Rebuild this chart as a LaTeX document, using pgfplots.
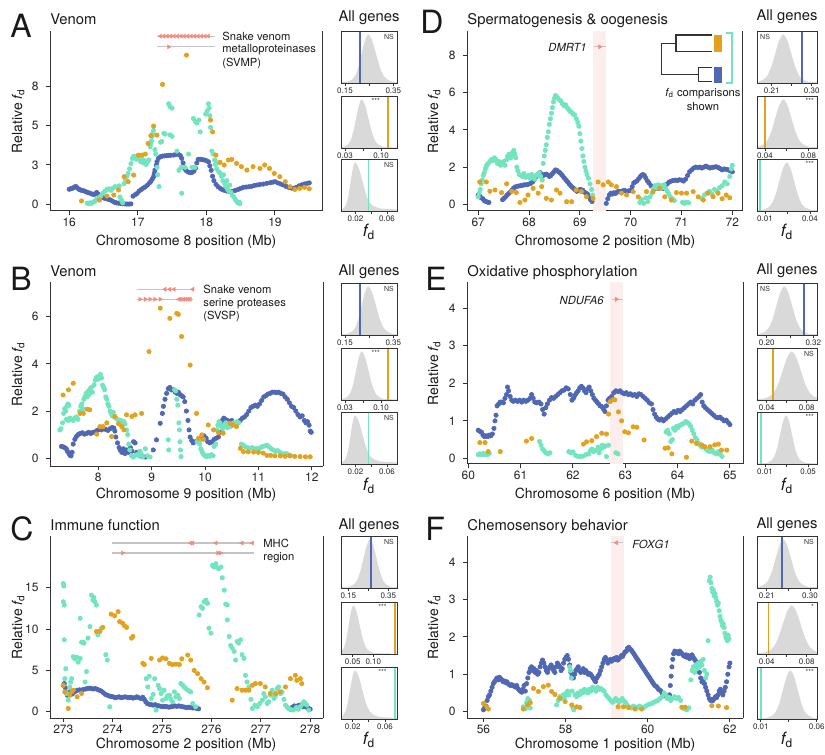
\documentclass[border=0pt]{standalone}
\usepackage{fontspec}
\setmainfont{TeX Gyre Heros}
\usepackage{pgfplots}
\pgfplotsset{compat=1.18}

\definecolor{bluC}{HTML}{5067B3}
\definecolor{orgC}{HTML}{E2A21E}
\definecolor{tealC}{HTML}{72E4BF}
\definecolor{geneC}{HTML}{F58A7E}
\definecolor{glineC}{HTML}{C4C4C4}
\definecolor{bandC}{HTML}{FDEEEE}
\definecolor{histC}{HTML}{D9D9D9}
\definecolor{axC}{HTML}{333333}

\newcommand{\ftick}{\fontsize{6}{6.5}\selectfont}
\newcommand{\flab}{\fontsize{7}{8}\selectfont}
\newcommand{\ftitle}{\fontsize{7.4}{8.5}\selectfont}
\newcommand{\fletter}{\fontsize{16}{17}\selectfont}
\newcommand{\fann}{\fontsize{5.6}{6.5}\selectfont}
\newcommand{\finset}{\fontsize{4}{4.4}\selectfont}
\newcommand{\fd}{{\itshape f}\textsubscript{d}}

\pgfplotsset{
  mainax/.style={
    scale only axis, anchor=north west, clip=false,
    axis x line*=bottom, axis y line*=left,
    axis line style={line width=0.5pt, draw=axC},
    tick align=outside, major tick length=2.2pt,
    tick style={axC, line width=0.5pt},
    tick label style={font=\ftick, text=black!85},
    xticklabel style={inner sep=1.2pt},
    /pgf/number format/assume math mode=true,
    /pgf/number format/1000 sep={},
  },
  ins/.style={
    scale only axis, anchor=north west, height=26pt,
    ymin=0, ymax=1.07, ytick=\empty, xtick pos=left,
    scaled x ticks=false,
    axis line style={line width=0.5pt, draw=axC},
    tick align=outside, major tick length=1.4pt,
    tick style={axC, line width=0.4pt},
    tick label style={font=\finset, text=black!85, inner sep=0.6pt},
    axis on top,
  },
  pb/.style={only marks, color=bluC, mark=*, mark size=1.1pt, line width=0.3pt, mark options={fill=bluC, draw=bluC}},
  pt/.style={only marks, color=tealC, mark=*, mark size=1.1pt, line width=0.3pt, mark options={fill=tealC, draw=tealC}},
  po/.style={only marks, color=orgC, mark=*, mark size=1.1pt, line width=0.3pt, mark options={fill=orgC, draw=orgC}},
  hist/.style={fill=histC, draw=none, smooth},
  vl/.style={line width=0.9pt},
  gline/.style={glineC, line width=0.6pt},
  arrL/.style={only marks, color=geneC, mark=triangle*, mark size=1.3pt, mark options={rotate=90, fill=geneC, draw=geneC, line width=0.1pt}},
  arrR/.style={only marks, color=geneC, mark=triangle*, mark size=1.3pt, mark options={rotate=-90, fill=geneC, draw=geneC, line width=0.1pt}},
}
\tikzset{sig/.style={font=\fontsize{3.5}{3.8}\selectfont, inner sep=0.8pt, text=black!80}}

\newcommand{\venominsets}[3]{%
\begin{axis}[ins, at={(170.5pt,#1)}, width=28pt, xmin=0.1334, xmax=0.3653,
  xtick={0.15,0.25,0.35}, xticklabels={0.15,,0.35}]
\addplot[hist] coordinates {(0.084,0.01)(0.1515,0.02)(0.165,0.035)(0.1785,0.07)(0.192,0.15)(0.2055,0.33)(0.219,0.61)(0.2325,0.88)(0.246,1)(0.262,0.88)(0.278,0.61)(0.294,0.33)(0.310,0.15)(0.326,0.07)(0.342,0.035)(0.358,0.02)(0.438,0.01)} \closedcycle;
\addplot[bluC, vl] coordinates {(0.212,0)(0.212,1.07)};
\node[sig, anchor=north east] at (rel axis cs:0.98,0.97) {NS};
\end{axis}
\begin{axis}[ins, at={(170.5pt,#2)}, width=28pt, xmin=0.0222, xmax=0.131,
  xtick={0.03,0.065,0.10}, xticklabels={0.03,,0.10}]
\addplot[hist] coordinates {(-0.0035,0.01)(0.024,0.02)(0.0295,0.035)(0.035,0.07)(0.0405,0.15)(0.046,0.33)(0.0515,0.61)(0.057,0.88)(0.0625,1)(0.069,0.88)(0.0755,0.61)(0.082,0.33)(0.0885,0.15)(0.095,0.07)(0.1015,0.035)(0.108,0.02)(0.1405,0.01)} \closedcycle;
\addplot[orgC, vl] coordinates {(0.1132,0)(0.1132,1.07)};
\node[sig, anchor=north] at (rel axis cs:0.62,0.99) {***};
\end{axis}
\begin{axis}[ins, at={(170.5pt,#3)}, width=28pt, xmin=0.0016, xmax=0.0727,
  xtick={0.02,0.04,0.06}, xticklabels={0.02,,0.06}]
\addplot[hist] coordinates {(-0.0136,0.01)(0.0002,0.02)(0.0029,0.035)(0.0057,0.07)(0.0084,0.15)(0.0112,0.33)(0.0139,0.61)(0.0167,0.88)(0.0194,1)(0.0242,0.88)(0.0289,0.61)(0.0337,0.33)(0.0384,0.17)(0.0432,0.10)(0.0479,0.07)(0.0527,0.05)(0.0764,0.03)} \closedcycle;
\addplot[tealC, vl] coordinates {(0.0365,0)(0.0365,1.07)};
\node[sig, anchor=north east] at (rel axis cs:0.98,0.97) {NS};
\end{axis}}

\begin{document}
\begin{tikzpicture}[x=0.5pt, y=-0.5pt]

% ---------------- A ----------------
\begin{axis}[mainax, at={(25pt,-15.5pt)}, width=136.5pt, height=90pt,
  xmin=15.72, xmax=19.70, ymin=-0.45, ymax=11.72,
  xtick={16,17,18,19}, ytick={0,2.667,5.333,8}, yticklabels={0,3,5,8}]
\addplot[pb] coordinates {(16.00,1.02)(16.02,1.05)(16.04,1.08)(16.06,1.12)(16.08,1.18)(16.10,1.20)(16.12,1.10)(16.14,1.02)(16.16,0.98)(16.18,0.95)(16.21,0.92)(16.24,0.86)(16.27,0.80)(16.30,0.76)(16.33,0.70)(16.36,0.66)(16.38,0.72)(16.40,0.80)(16.42,0.70)(16.45,0.55)(16.48,0.48)(16.51,0.42)(16.54,0.38)(16.57,0.34)(16.60,0.30)(16.63,0.22)(16.66,0.14)(16.69,0.10)(16.72,0.08)(16.75,0.06)(16.78,0.04)(16.81,0.03)(16.84,0.02)(16.87,0.02)(16.90,0.03)(16.93,0.55)(16.96,0.65)(16.99,0.74)(17.02,0.90)(17.05,1.00)(17.08,1.10)(17.11,1.18)(17.14,1.30)(17.17,1.45)(17.19,1.55)(17.21,1.70)(17.23,1.87)(17.24,2.10)(17.25,2.32)(17.27,2.65)(17.28,2.88)(17.30,3.10)(17.33,3.22)(17.36,3.26)(17.39,3.28)(17.42,3.29)(17.45,3.31)(17.48,3.32)(17.52,3.33)(17.55,3.36)(17.59,3.38)(17.62,3.30)(17.64,3.11)(17.66,2.80)(17.68,2.45)(17.70,2.30)(17.73,2.20)(17.76,2.14)(17.79,2.16)(17.82,2.25)(17.84,2.45)(17.86,2.80)(17.88,3.04)(17.91,3.05)(17.94,3.02)(17.97,3.00)(18.00,2.95)(18.03,2.88)(18.05,2.60)(18.07,2.30)(18.09,1.90)(18.11,1.60)(18.14,1.35)(18.17,1.19)(18.20,1.08)(18.23,1.00)(18.26,0.95)(18.30,0.90)(18.34,0.86)(18.38,0.88)(18.42,0.94)(18.46,1.00)(18.50,1.08)(18.54,1.15)(18.58,1.17)(18.62,1.19)(18.66,1.22)(18.70,1.28)(18.74,1.31)(18.78,1.34)(18.83,1.37)(18.88,1.42)(18.93,1.46)(18.97,1.50)(19.00,1.53)(19.04,1.45)(19.08,1.38)(19.12,1.31)(19.16,1.22)(19.20,1.15)(19.24,1.10)(19.27,1.08)(19.31,1.15)(19.35,1.25)(19.39,1.32)(19.43,1.38)(19.47,1.42)(19.50,1.45)};
\addplot[pt] coordinates {(16.26,0.08)(16.28,0.05)(16.30,0.10)(16.32,0.06)(16.34,0.12)(16.37,0.20)(16.40,0.35)(16.43,0.45)(16.46,0.55)(16.49,0.75)(16.52,0.90)(16.55,1.00)(16.58,1.05)(16.61,0.95)(16.64,1.10)(16.67,1.20)(16.70,1.15)(16.73,1.25)(16.74,0.50)(16.76,0.30)(16.78,0.10)(16.80,1.40)(16.82,1.70)(16.84,1.90)(16.86,2.10)(16.88,2.40)(16.90,2.75)(16.92,3.10)(16.94,3.25)(16.96,3.20)(16.98,3.05)(17.00,3.30)(17.02,3.15)(17.04,2.90)(17.06,3.05)(17.08,2.80)(17.10,2.95)(17.12,2.70)(17.14,2.85)(17.16,3.00)(17.18,3.90)(17.19,4.10)(17.20,4.30)(17.21,4.60)(17.22,4.80)(17.23,5.00)(17.25,3.70)(17.26,3.40)(17.28,2.50)(17.29,2.00)(17.31,1.20)(17.33,4.20)(17.35,4.25)(17.38,4.80)(17.40,4.75)(17.45,6.80)(17.47,6.60)(17.50,6.50)(17.47,4.70)(17.50,4.60)(17.57,3.60)(17.60,2.30)(17.63,2.50)(17.64,0.75)(17.69,2.50)(17.74,3.40)(17.79,2.50)(17.83,2.50)(17.81,5.80)(17.84,5.60)(17.86,5.50)(17.89,5.70)(17.91,4.90)(17.99,6.10)(18.01,6.30)(18.03,6.80)(18.04,6.50)(18.05,6.00)(18.06,5.20)(18.08,3.60)(18.10,3.40)(18.12,3.00)(18.13,2.70)(18.15,2.40)(18.16,2.80)(18.18,2.20)(18.20,2.10)(18.22,1.90)(18.24,1.60)(18.25,2.00)(18.27,1.40)(18.28,1.20)(18.30,1.60)(18.31,1.00)(18.33,0.90)(18.34,1.30)(18.36,0.80)(18.38,0.60)(18.40,0.50)(18.42,0.35)(18.44,0.20)(18.46,0.10)(18.48,0.15)(18.49,0.05)};
\addplot[po] coordinates {(16.18,0.23)(16.44,0.29)(16.55,0.56)(16.65,0.63)(16.72,0.97)(16.80,1.87)(16.86,1.53)(16.94,1.98)(17.01,3.33)(17.06,3.33)(17.11,3.40)(17.15,4.12)(17.19,4.64)(17.23,5.29)(17.28,4.68)(17.36,8.11)(17.71,10.09)(18.06,5.70)(18.09,4.90)(18.14,3.33)(18.20,2.84)(18.26,2.66)(18.32,3.00)(18.37,3.04)(18.44,2.77)(18.51,2.55)(18.59,2.32)(18.68,2.55)(18.78,2.43)(18.85,2.66)(18.92,2.43)(18.99,2.09)(19.07,1.87)(19.15,1.53)(19.22,1.19)(19.29,1.01)(19.36,1.08)(19.43,1.15)(19.50,1.05)};
\addplot[gline] coordinates {(17.28,11.37)(18.13,11.37)};
\addplot[gline] coordinates {(17.28,10.65)(18.13,10.65)};
\addplot[arrL] coordinates {(17.33,11.37)(17.38,11.37)(17.43,11.37)(17.48,11.37)(17.53,11.37)(17.58,11.37)(17.63,11.37)(17.68,11.37)(17.73,11.37)(17.78,11.37)(17.83,11.37)(17.88,11.37)(17.93,11.37)(17.98,11.37)(18.03,11.37)};
\addplot[arrR] coordinates {(17.45,10.65)};
\draw[axC, line width=0.5pt] (rel axis cs:1,0) -- (rel axis cs:1,1);
\end{axis}

% ---------------- B ----------------
\begin{axis}[mainax, at={(25pt,-141pt)}, width=136.5pt, height=92pt,
  xmin=7.095, xmax=12.21, ymin=-0.33, ymax=7.47,
  xtick={8,9,10,11,12}, ytick={0,2,4,6}]
\addplot[pb] coordinates {(7.31,0.50)(7.34,0.48)(7.37,0.45)(7.40,0.40)(7.42,0.30)(7.45,0.20)(7.47,0.12)(7.49,0.10)(7.51,0.25)(7.53,0.60)(7.56,0.80)(7.59,0.92)(7.62,1.00)(7.66,1.05)(7.70,1.08)(7.74,1.02)(7.78,1.05)(7.82,1.10)(7.86,1.05)(7.90,1.10)(7.94,1.12)(7.98,1.18)(8.02,1.22)(8.06,1.20)(8.10,1.25)(8.14,1.22)(8.18,1.18)(8.22,1.25)(8.26,1.30)(8.29,1.28)(8.31,1.15)(8.33,0.90)(8.36,0.65)(8.39,0.45)(8.41,0.35)(8.44,0.25)(8.47,0.40)(8.50,0.20)(8.53,0.35)(8.56,0.25)(8.60,0.45)(8.63,0.30)(8.66,0.70)(8.69,0.65)(8.72,0.25)(8.75,0.15)(8.78,0.10)(8.82,0.07)(8.88,0.05)(9.03,0.35)(9.09,0.78)(9.16,1.48)(9.20,1.90)(9.22,2.20)(9.25,2.50)(9.28,2.75)(9.31,2.95)(9.34,3.00)(9.37,2.90)(9.41,2.90)(9.44,2.80)(9.47,2.75)(9.50,2.80)(9.53,2.70)(9.56,2.65)(9.59,2.60)(9.62,2.40)(9.65,2.00)(9.68,1.60)(9.70,1.20)(9.72,0.90)(9.75,0.75)(9.78,0.65)(9.82,0.70)(9.86,0.72)(9.90,0.80)(9.94,0.90)(9.98,0.95)(10.02,0.85)(10.05,0.70)(10.09,0.65)(10.13,0.70)(10.17,0.80)(10.21,0.85)(10.25,0.90)(10.28,1.10)(10.30,1.40)(10.32,1.60)(10.35,1.70)(10.38,1.65)(10.42,1.60)(10.46,1.55)(10.50,1.60)(10.54,1.45)(10.58,1.42)(10.62,1.50)(10.66,1.60)(10.70,1.70)(10.74,1.75)(10.78,1.85)(10.82,2.00)(10.86,2.15)(10.90,2.20)(10.94,2.25)(10.98,2.20)(11.02,2.30)(11.06,2.45)(11.10,2.60)(11.14,2.65)(11.18,2.72)(11.22,2.75)(11.26,2.80)(11.30,2.80)(11.34,2.78)(11.38,2.80)(11.42,2.75)(11.46,2.72)(11.50,2.60)(11.54,2.50)(11.58,2.35)(11.62,2.20)(11.66,2.15)(11.70,2.00)(11.74,1.85)(11.78,1.75)(11.82,1.80)(11.86,1.60)(11.89,1.50)(11.92,1.55)(11.95,1.40)(11.97,1.15)(11.99,1.10)};
\addplot[pt] coordinates {(7.28,1.20)(7.30,1.25)(7.33,1.50)(7.35,1.90)(7.37,2.10)(7.39,2.00)(7.41,2.20)(7.43,2.30)(7.45,2.25)(7.40,1.65)(7.44,1.60)(7.47,1.70)(7.50,1.65)(7.53,1.60)(7.56,1.70)(7.59,1.75)(7.62,1.65)(7.65,2.00)(7.67,2.20)(7.69,2.30)(7.71,2.10)(7.73,2.50)(7.75,2.60)(7.77,2.75)(7.79,2.60)(7.81,2.85)(7.83,2.70)(7.85,2.95)(7.87,3.00)(7.89,2.80)(7.92,3.10)(7.94,3.30)(7.96,3.40)(7.98,3.45)(8.00,3.35)(8.02,3.50)(8.04,3.55)(8.06,3.40)(8.08,3.10)(8.10,3.00)(8.12,2.90)(8.14,2.60)(8.16,2.50)(8.18,2.30)(8.20,2.20)(8.22,2.00)(8.24,1.90)(8.26,1.80)(8.28,1.95)(8.30,1.75)(8.33,1.70)(8.36,1.65)(8.39,1.55)(8.42,1.60)(8.45,1.50)(8.48,1.55)(8.50,1.45)(8.53,1.20)(8.55,1.00)(8.57,0.60)(8.59,0.35)(8.62,0.10)(8.66,0.05)(8.72,0.15)(8.76,0.10)(8.78,0.30)(8.80,0.20)(8.83,0.05)(8.88,0.40)(8.92,0.10)(8.97,0.05)(9.31,0.78)(9.32,0.35)(9.43,2.90)(9.45,2.85)(9.47,2.50)(9.49,2.25)(9.51,1.50)(9.52,1.20)(9.53,0.70)(9.54,0.35)(9.55,0.07)(9.85,0.70)(9.88,0.78)(9.90,0.60)(9.92,0.40)(9.94,0.30)(9.96,0.20)(9.98,0.15)(10.00,0.10)(10.03,0.07)(10.06,0.12)(10.09,0.08)(10.12,0.15)(10.15,0.10)(10.17,0.50)(10.20,0.60)(10.22,1.20)(10.24,1.40)(10.26,1.55)(10.28,1.50)(10.30,1.35)(10.33,1.25)(10.36,1.40)(10.39,1.50)(10.42,1.30)(10.45,1.45)(10.48,1.35)(10.51,1.40)(10.54,1.50)(10.57,1.45)(10.60,1.55)(10.63,1.50)(10.68,0.60)(10.72,0.55)(10.76,0.48)(10.80,0.45)(10.84,0.42)(10.88,0.45)(10.92,0.40)(10.96,0.42)(11.00,0.38)(11.04,0.45)(11.08,0.50)(11.12,0.52)(11.16,0.55)(11.20,0.48)(11.24,0.40)(11.28,0.35)(11.32,0.30)(11.36,0.32)(11.40,0.25)(11.44,0.20)(11.48,0.18)(11.52,0.20)(11.56,0.15)(11.60,0.12)};
\addplot[po] coordinates {(7.34,2.68)(7.44,2.90)(7.53,3.18)(7.66,1.90)(7.72,1.90)(7.79,2.08)(7.84,2.05)(7.97,1.02)(8.03,1.34)(8.09,1.34)(8.16,1.50)(8.25,0.92)(8.31,1.77)(8.38,1.46)(8.44,1.34)(8.48,1.20)(8.53,1.84)(8.63,1.77)(8.69,1.84)(8.81,1.90)(8.95,4.52)(9.16,6.36)(9.34,5.93)(9.47,6.14)(9.50,6.10)(9.56,5.16)(9.72,3.95)(9.84,1.90)(9.88,0.85)(9.94,0.99)(9.97,0.80)(10.06,1.41)(10.16,1.20)(10.25,1.09)(10.34,1.06)(10.47,1.48)(10.53,1.41)(10.59,1.34)(10.66,0.42)(10.72,0.28)(10.81,0.27)(10.91,0.26)(11.00,0.25)(11.09,0.22)(11.16,0.12)(11.23,0.12)(11.31,0.10)(11.41,0.10)(11.50,0.08)(11.59,0.10)(11.68,0.08)(11.78,0.07)(11.88,0.06)(11.97,0.06)};
\addplot[gline] coordinates {(8.72,7.16)(9.78,7.16)};
\addplot[gline] coordinates {(8.72,6.74)(9.78,6.74)};
\addplot[arrL] coordinates {(9.25,7.16)(9.34,7.16)(9.42,7.16)(9.77,7.16)};
\addplot[arrR] coordinates {(8.78,6.74)(8.88,6.74)(8.97,6.74)(9.06,6.74)(9.16,6.74)};
\addplot[arrL] coordinates {(9.51,6.74)(9.55,6.74)(9.60,6.74)(9.64,6.74)(9.68,6.74)(9.72,6.74)};
\draw[axC, line width=0.5pt] (rel axis cs:1,0) -- (rel axis cs:1,1);
\end{axis}

% ---------------- C ----------------
\begin{axis}[mainax, at={(25pt,-268pt)}, width=136.5pt, height=91pt,
  xmin=272.73, xmax=278.26, ymin=-0.76, ymax=21.25,
  xtick={273,274,275,276,277,278}, ytick={0,5,10,15}]
\addplot[pb] coordinates {(273.00,3.20)(273.02,3.40)(273.04,2.90)(273.06,2.30)(273.08,2.00)(273.10,2.20)(273.13,2.40)(273.16,2.10)(273.19,2.20)(273.22,2.40)(273.25,2.50)(273.29,2.60)(273.33,2.65)(273.37,2.60)(273.41,2.70)(273.45,2.75)(273.49,2.80)(273.53,2.85)(273.57,2.80)(273.61,2.75)(273.65,2.80)(273.69,2.70)(273.73,2.60)(273.77,2.50)(273.81,2.30)(273.85,2.10)(273.89,2.00)(273.93,1.90)(273.97,1.85)(274.01,1.80)(274.05,1.70)(274.09,1.75)(274.13,1.80)(274.17,1.70)(274.21,1.75)(274.25,1.80)(274.29,1.75)(274.33,1.70)(274.37,1.75)(274.41,1.65)(274.45,1.70)(274.49,1.80)(274.53,1.70)(274.57,1.60)(274.61,1.75)(274.64,1.50)(274.67,1.20)(274.70,1.00)(274.74,0.90)(274.78,0.85)(274.82,0.80)(274.86,0.85)(274.90,0.75)(274.94,0.70)(274.98,0.65)(275.02,0.60)(275.06,0.65)(275.10,0.60)(275.14,0.55)(275.18,0.60)(275.22,0.65)(275.26,0.70)(275.30,0.65)(275.34,0.70)(275.38,0.65)(275.42,0.60)(275.46,0.55)(275.50,0.50)(275.54,0.55)(275.58,0.50)(275.62,0.45)(275.66,0.50)(275.70,0.40)(275.74,0.35)(277.60,0.30)(277.64,0.55)(277.68,0.70)(277.72,0.60)(277.76,0.75)(277.80,0.80)(277.84,0.60)(277.88,0.70)(277.92,0.55)(277.96,0.45)(278.00,0.30)};
\addplot[pt] coordinates {(273.00,15.50)(273.01,15.20)(273.00,13.30)(273.02,12.90)(273.02,8.70)(273.03,4.00)(273.05,5.20)(273.07,2.20)(273.10,1.40)(273.13,3.00)(273.15,3.60)(273.17,4.00)(273.20,6.65)(273.23,6.40)(273.27,6.60)(273.30,6.00)(273.34,6.45)(273.34,11.30)(273.37,8.40)(273.40,8.40)(273.42,8.30)(273.44,3.60)(273.47,4.85)(273.50,8.90)(273.54,10.30)(273.57,14.10)(273.60,13.50)(273.62,13.80)(273.64,13.30)(273.67,12.90)(273.70,9.30)(273.74,9.70)(273.77,10.10)(273.86,6.90)(273.89,6.25)(273.94,0.60)(274.68,4.00)(274.71,3.00)(274.74,4.30)(274.78,1.60)(274.82,2.10)(274.85,4.00)(274.88,0.20)(274.92,3.20)(274.95,2.80)(274.98,2.20)(275.01,1.40)(275.04,2.60)(275.08,1.60)(275.11,1.90)(275.15,2.00)(275.18,1.50)(275.21,1.20)(275.25,2.40)(275.28,1.80)(275.32,2.00)(275.35,1.60)(275.38,3.40)(275.42,3.20)(275.45,3.00)(275.48,2.80)(275.52,2.60)(275.55,2.50)(275.58,2.40)(275.62,1.00)(275.68,0.60)(275.75,11.70)(275.79,12.70)(275.82,12.50)(275.85,13.30)(275.89,13.50)(275.92,13.10)(275.95,10.10)(275.99,9.50)(276.02,17.70)(276.05,17.50)(276.09,17.90)(276.12,17.40)(276.15,17.30)(276.19,17.50)(276.22,16.20)(276.26,14.70)(276.29,13.00)(276.32,12.90)(276.32,11.10)(276.36,9.10)(276.39,8.00)(276.42,7.70)(276.46,7.30)(276.49,6.25)(276.52,8.50)(276.55,8.30)(276.59,8.70)(276.62,6.90)(276.66,6.45)(276.69,4.40)(276.72,3.60)(276.76,3.00)(276.80,1.50)(276.83,0.40)(276.88,0.80)(276.93,0.60)(276.98,1.00)(277.03,1.40)(277.06,2.20)(277.09,1.80)(277.13,1.00)(277.16,1.20)(277.20,2.00)(277.23,2.60)(277.27,1.60)(277.30,2.00)(277.33,2.80)(277.36,3.00)(277.40,2.20)(277.43,2.40)(277.47,1.50)(277.50,0.80)(277.53,0.60)(277.56,0.40)(277.60,0.30)(277.66,0.20)(277.72,0.50)(277.76,0.30)(277.80,0.60)(277.84,0.90)(277.87,1.20)(277.90,1.00)(277.93,0.80)(277.97,0.20)};
\addplot[po] coordinates {(273.00,3.20)(273.03,2.40)(273.10,0.40)(273.13,2.00)(273.17,2.40)(273.20,2.60)(273.28,1.80)(273.37,2.20)(273.67,9.70)(273.74,9.75)(273.80,10.20)(273.97,11.80)(274.04,11.60)(274.11,12.10)(274.14,10.90)(274.20,10.70)(274.24,10.40)(274.28,10.20)(274.38,8.90)(274.41,9.10)(274.61,5.85)(274.64,5.70)(274.78,6.45)(274.95,6.25)(275.01,6.50)(275.08,6.40)(275.15,5.85)(275.21,5.70)(275.28,5.75)(275.35,5.70)(275.40,6.40)(275.52,6.85)(275.58,6.25)(275.65,5.00)(275.72,4.60)(275.79,4.00)(275.85,3.60)(275.92,2.90)(276.42,1.40)(276.52,2.80)(276.62,2.60)(276.69,2.60)(276.76,2.60)(276.83,3.20)(276.89,3.40)(276.99,3.40)(277.09,3.00)(277.19,2.20)(277.30,2.20)(277.39,2.40)(277.50,3.00)(277.60,4.00)(277.70,4.40)(277.73,3.80)(277.80,4.00)(277.83,3.40)};
\addplot[gline] coordinates {(273.99,20.4)(276.87,20.4)};
\addplot[gline] coordinates {(273.99,19.2)(276.87,19.2)};
\addplot[arrL] coordinates {(275.58,20.4)(275.62,20.4)(276.09,20.4)(276.62,20.4)(276.83,20.4)};
\addplot[arrR] coordinates {(274.20,19.2)(276.13,19.2)(276.18,19.2)};
\draw[axC, line width=0.5pt] (rel axis cs:1,0) -- (rel axis cs:1,1);
\end{axis}

% ---------------- D ----------------
\begin{axis}[mainax, at={(233.5pt,-15.5pt)}, width=138pt, height=90pt,
  xmin=66.78, xmax=72.21, ymin=-0.36, ymax=9.32,
  xtick={67,68,69,70,71,72}, ytick={0,2,4,6,8}]
\addplot[fill=bandC, draw=none] coordinates {(69.26,-0.36)(69.52,-0.36)(69.52,9.32)(69.26,9.32)} -- cycle;
\addplot[pb] coordinates {(67.00,0.50)(67.03,0.45)(67.06,0.35)(67.09,0.30)(67.12,0.20)(67.15,0.15)(67.18,0.12)(67.21,0.10)(67.48,0.25)(67.51,0.32)(67.54,0.40)(67.57,0.50)(67.60,0.58)(67.63,0.65)(67.66,0.75)(67.69,0.85)(67.72,0.92)(67.75,0.95)(67.79,0.98)(67.83,1.00)(67.87,1.02)(67.91,1.05)(67.95,1.05)(67.99,1.08)(68.03,1.12)(68.07,1.20)(68.10,1.30)(68.13,1.45)(68.16,1.55)(68.19,1.65)(68.22,1.70)(68.25,1.60)(68.28,1.55)(68.31,1.60)(68.34,1.62)(68.37,1.58)(68.40,1.50)(68.43,1.55)(68.46,1.65)(68.49,1.75)(68.52,1.85)(68.55,1.82)(68.58,1.75)(68.61,1.70)(68.64,1.60)(68.67,1.50)(68.70,1.40)(68.73,1.30)(68.76,1.20)(68.79,1.10)(68.82,1.00)(68.85,0.92)(68.88,0.85)(68.91,0.78)(68.94,0.70)(68.97,0.75)(69.00,0.80)(69.03,0.78)(69.06,0.75)(69.09,0.65)(69.12,0.60)(69.15,0.55)(69.18,0.40)(69.21,0.25)(69.24,0.15)(69.52,0.05)(69.55,0.30)(69.58,0.50)(69.61,0.60)(69.64,0.55)(69.67,0.62)(69.70,0.58)(69.73,0.65)(69.76,0.70)(69.80,0.68)(69.84,0.72)(69.88,0.75)(69.92,0.70)(69.96,0.72)(70.00,0.75)(70.03,0.95)(70.06,1.15)(70.09,1.20)(70.12,1.25)(70.15,1.35)(70.18,1.45)(70.21,1.55)(70.24,1.60)(70.27,1.55)(70.30,1.40)(70.33,1.25)(70.36,1.15)(70.40,1.00)(70.44,0.90)(70.48,0.85)(70.52,0.88)(70.56,0.85)(70.60,0.90)(70.64,0.85)(70.68,1.00)(70.72,1.10)(70.76,1.20)(70.80,1.25)(70.84,1.28)(70.88,1.30)(70.92,1.28)(70.96,1.32)(71.00,1.30)(71.04,1.25)(71.08,1.35)(71.12,1.55)(71.16,1.75)(71.20,1.85)(71.24,1.95)(71.28,2.00)(71.32,1.98)(71.36,2.00)(71.40,1.95)(71.44,2.00)(71.48,2.05)(71.52,2.00)(71.56,1.95)(71.60,1.98)(71.64,2.00)(71.68,2.02)(71.72,1.98)(71.76,1.92)(71.80,1.85)(71.84,1.90)(71.88,1.88)(71.92,1.85)(71.96,1.80)(72.00,1.75)};
\addplot[pt] coordinates {(67.00,0.40)(67.02,0.60)(67.04,0.80)(67.06,1.10)(67.08,1.30)(67.10,1.55)(67.12,1.70)(67.14,1.90)(67.16,2.05)(67.18,2.15)(67.20,2.20)(67.23,2.30)(67.26,2.40)(67.29,2.35)(67.32,2.50)(67.35,2.40)(67.38,2.20)(67.41,2.30)(67.44,2.10)(67.47,2.25)(67.50,2.30)(67.53,2.10)(67.56,2.40)(67.58,2.60)(67.61,2.70)(67.64,2.50)(67.66,2.60)(67.68,2.80)(67.70,2.90)(67.72,2.70)(67.74,2.50)(67.76,2.00)(67.78,1.80)(67.81,1.60)(67.84,1.55)(67.87,1.50)(67.90,1.65)(67.93,1.45)(67.96,1.50)(67.99,1.55)(68.02,1.40)(68.05,1.60)(68.08,1.50)(68.11,1.35)(68.14,1.55)(68.17,1.60)(68.20,1.70)(68.23,1.50)(68.26,1.30)(68.28,2.20)(68.30,2.60)(68.32,2.90)(68.34,3.20)(68.36,3.60)(68.38,3.90)(68.40,4.30)(68.42,4.60)(68.44,4.90)(68.46,5.20)(68.48,5.50)(68.50,5.70)(68.52,5.85)(68.54,5.80)(68.57,5.70)(68.60,5.60)(68.63,5.55)(68.66,5.40)(68.69,5.30)(68.72,5.35)(68.75,5.20)(68.78,5.10)(68.81,5.00)(68.84,4.95)(68.87,4.85)(68.90,4.80)(68.93,4.60)(68.96,4.40)(68.98,4.20)(69.00,3.80)(69.02,3.40)(69.04,3.00)(69.06,2.60)(69.08,2.30)(69.10,2.00)(69.12,1.80)(69.14,1.60)(69.17,1.40)(69.20,1.10)(69.23,0.80)(69.25,0.50)(70.18,0.10)(70.22,0.25)(70.26,0.05)(70.30,0.35)(70.34,0.15)(70.38,0.40)(70.42,0.60)(70.45,0.85)(70.48,1.00)(70.51,0.90)(70.54,1.05)(70.57,0.95)(70.60,1.00)(70.63,0.90)(70.66,1.05)(70.69,0.85)(70.72,0.70)(70.75,0.55)(70.78,0.40)(70.82,0.30)(70.86,0.20)(71.02,0.10)(71.06,0.05)(71.10,0.12)(71.14,0.08)(71.40,0.30)(71.45,0.50)(71.50,0.60)(71.55,0.70)(71.60,0.55)(71.65,0.80)(71.70,0.70)(71.75,0.90)(71.80,1.00)(71.85,1.20)(71.90,1.10)(71.95,1.50)(71.98,1.90)(72.00,2.10)};
\addplot[po] coordinates {(67.03,1.20)(67.16,1.20)(67.23,0.70)(67.33,0.77)(67.46,0.63)(67.56,1.10)(67.66,0.70)(67.75,0.63)(67.82,0.10)(67.92,0.23)(67.98,0.50)(68.08,0.86)(68.18,0.60)(68.25,0.95)(68.34,0.32)(68.44,0.23)(68.54,0.77)(68.61,0.60)(68.74,0.14)(68.84,0.14)(68.93,0.77)(69.03,0.68)(69.13,0.41)(69.26,0.32)(69.36,1.20)(69.46,1.05)(69.56,1.20)(69.62,1.05)(69.72,0.95)(69.82,0.60)(69.92,0.50)(70.05,0.68)(70.15,0.40)(70.31,0.68)(70.44,0.68)(70.57,0.86)(70.67,0.40)(70.80,0.23)(70.90,0.63)(71.00,0.60)(71.10,0.60)(71.23,0.68)(71.33,0.40)(71.43,0.23)(71.52,0.60)(71.62,0.41)(71.72,0.60)(71.80,0.30)(71.88,0.50)(71.95,0.35)};
\addplot[gline] coordinates {(69.28,8.47)(69.52,8.47)};
\addplot[arrR] coordinates {(69.39,8.47)};
\draw[axC, line width=0.5pt] (rel axis cs:1,0) -- (rel axis cs:1,1);
\end{axis}

% ---------------- E ----------------
\begin{axis}[mainax, at={(233.5pt,-141pt)}, width=138pt, height=91pt,
  xmin=59.975, xmax=65.25, ymin=-0.15, ymax=4.70,
  xtick={60,61,62,63,64,65}, ytick={0,1,2,3,4}]
\addplot[fill=bandC, draw=none] coordinates {(62.71,-0.15)(62.96,-0.15)(62.96,4.70)(62.71,4.70)} -- cycle;
\addplot[pb] coordinates {(60.19,0.75)(60.22,0.72)(60.25,0.70)(60.28,0.62)(60.31,0.58)(60.34,0.60)(60.37,0.58)(60.40,0.62)(60.43,0.60)(60.46,0.65)(60.49,0.80)(60.51,1.00)(60.53,1.15)(60.55,1.40)(60.58,1.45)(60.61,1.50)(60.64,1.50)(60.67,1.48)(60.70,1.60)(60.73,1.70)(60.75,1.90)(60.77,1.80)(60.80,1.65)(60.83,1.55)(60.86,1.52)(60.90,1.55)(60.94,1.52)(60.98,1.55)(61.02,1.50)(61.06,1.55)(61.10,1.52)(61.14,1.55)(61.18,1.60)(61.21,1.70)(61.24,1.60)(61.27,1.50)(61.31,1.48)(61.35,1.50)(61.39,1.45)(61.42,1.30)(61.45,1.18)(61.48,1.35)(61.51,1.45)(61.55,1.55)(61.59,1.62)(61.63,1.60)(61.67,1.65)(61.71,1.70)(61.75,1.75)(61.79,1.80)(61.83,1.82)(61.87,1.88)(61.91,1.85)(61.95,1.70)(61.98,1.55)(62.01,1.60)(62.04,1.68)(62.07,1.75)(62.10,1.80)(62.13,1.88)(62.16,1.92)(62.19,1.88)(62.22,1.80)(62.25,1.75)(62.28,1.85)(62.31,1.90)(62.34,1.80)(62.37,1.70)(62.40,1.60)(62.43,1.55)(62.46,1.50)(62.49,1.45)(62.52,1.40)(62.55,1.38)(62.58,1.32)(62.61,1.25)(62.64,1.40)(62.67,1.55)(62.70,1.60)(62.74,1.65)(62.78,1.75)(62.82,1.80)(62.86,1.78)(62.90,1.80)(62.94,1.75)(62.98,1.72)(63.02,1.75)(63.06,1.70)(63.10,1.72)(63.14,1.68)(63.18,1.70)(63.22,1.65)(63.26,1.72)(63.30,1.70)(63.34,1.65)(63.38,1.60)(63.42,1.55)(63.46,1.48)(63.50,1.45)(63.53,1.30)(63.56,1.18)(63.59,1.10)(63.62,1.05)(63.65,1.02)(63.69,1.05)(63.73,1.00)(63.77,1.05)(63.81,1.10)(63.85,1.15)(63.89,1.20)(63.93,1.25)(63.97,1.22)(64.01,1.28)(64.05,1.25)(64.09,1.30)(64.13,1.35)(64.17,1.40)(64.21,1.45)(64.25,1.50)(64.29,1.45)(64.33,1.55)(64.37,1.60)(64.41,1.65)(64.44,1.70)(64.47,1.50)(64.50,1.40)(64.53,1.35)(64.57,1.30)(64.61,1.25)(64.65,1.20)(64.69,1.15)(64.73,1.10)(64.77,1.08)(64.81,1.10)(64.85,1.05)(64.89,1.00)(64.93,1.02)(64.97,0.95)(65.00,0.90)};
\addplot[pt] coordinates {(60.19,0.10)(60.22,0.12)(60.25,0.10)(60.28,0.13)(60.31,0.10)(60.34,0.12)(60.37,0.10)(60.40,0.13)(61.36,0.45)(61.39,0.35)(61.42,0.25)(61.45,0.20)(61.48,0.15)(61.52,0.12)(61.56,0.15)(61.92,0.18)(61.96,0.15)(62.00,0.17)(62.05,0.08)(62.10,0.05)(62.15,0.05)(62.20,0.06)(62.25,0.10)(62.30,0.12)(62.33,0.20)(62.36,0.25)(62.40,0.18)(62.44,0.22)(62.48,0.30)(62.50,0.15)(62.53,0.25)(62.56,0.35)(62.59,0.30)(62.62,0.33)(62.64,0.05)(62.68,0.35)(62.82,0.15)(62.86,0.12)(63.78,0.70)(63.81,0.75)(63.84,0.65)(63.87,0.45)(63.90,0.50)(63.92,0.80)(63.95,0.75)(63.98,0.85)(64.01,0.82)(64.04,0.88)(64.07,0.90)(64.10,0.92)(64.13,0.95)(64.16,0.98)(64.19,0.95)(64.22,0.92)(64.25,0.85)(64.28,0.75)(64.31,0.65)(64.34,0.55)(64.37,0.50)(64.40,0.40)(64.43,0.35)(64.46,0.30)(64.50,0.32)(64.54,0.25)(64.58,0.20)(64.62,0.18)(64.66,0.22)(64.70,0.15)(64.74,0.12)(64.78,0.18)(64.82,0.10)(64.85,0.05)};
\addplot[po] coordinates {(60.22,0.42)(60.32,0.42)(60.38,0.18)(60.61,0.18)(61.11,0.46)(61.21,0.53)(62.20,0.38)(62.26,0.44)(62.36,0.47)(62.45,0.58)(62.55,0.67)(62.64,0.65)(62.68,1.18)(62.71,1.51)(62.76,1.56)(62.80,1.56)(62.87,1.24)(62.93,1.00)(62.99,0.71)(63.06,0.68)(63.15,0.84)(63.22,0.83)(63.36,0.49)(63.76,0.27)(63.82,0.28)(63.89,0.12)(64.17,0.03)(64.27,0.46)(64.36,0.40)(64.46,0.36)(64.52,0.31)(64.62,0.31)(64.71,0.36)(64.78,0.38)(64.84,0.22)(64.94,0.22)};
\addplot[gline] coordinates {(62.74,4.24)(62.96,4.24)};
\addplot[arrR] coordinates {(62.83,4.24)};
\draw[axC, line width=0.5pt] (rel axis cs:1,0) -- (rel axis cs:1,1);
\end{axis}

% ---------------- F ----------------
\begin{axis}[mainax, at={(233.5pt,-268pt)}, width=138pt, height=91pt,
  xmin=55.60, xmax=62.32, ymin=-0.17, ymax=4.70,
  xtick={56,58,60,62}, ytick={0,1,2,3,4}]
\addplot[fill=bandC, draw=none] coordinates {(59.10,-0.17)(59.42,-0.17)(59.42,4.70)(59.10,4.70)} -- cycle;
\addplot[pb] coordinates {(56.00,0.05)(56.03,0.10)(56.06,0.15)(56.09,0.30)(56.12,0.40)(56.15,0.45)(56.18,0.55)(56.21,0.65)(56.24,0.75)(56.27,0.80)(56.30,0.85)(56.33,0.90)(56.36,0.85)(56.39,0.92)(56.42,0.88)(56.45,0.85)(56.48,0.80)(56.51,0.82)(56.54,0.78)(56.57,0.80)(56.60,0.75)(56.63,0.72)(56.66,0.70)(56.69,0.72)(56.72,0.70)(56.75,0.68)(56.78,0.66)(56.81,0.70)(56.84,0.62)(56.87,0.58)(56.90,0.55)(56.93,0.52)(56.96,0.60)(56.99,0.70)(57.02,0.55)(57.05,0.75)(57.08,0.90)(57.11,1.05)(57.14,1.15)(57.17,1.20)(57.20,1.10)(57.23,1.15)(57.26,1.05)(57.29,1.10)(57.32,1.00)(57.35,1.05)(57.38,1.20)(57.41,1.30)(57.44,1.38)(57.47,1.30)(57.50,1.20)(57.53,1.10)(57.56,1.05)(57.59,1.15)(57.62,1.20)(57.65,1.25)(57.68,1.18)(57.71,1.10)(57.74,1.05)(57.77,1.20)(57.80,1.30)(57.83,1.25)(57.86,1.20)(57.89,1.10)(57.92,1.15)(57.95,1.30)(57.98,1.40)(58.01,1.45)(58.04,1.50)(58.07,1.40)(58.10,1.25)(58.13,1.05)(58.16,0.95)(58.19,0.90)(58.22,1.00)(58.25,1.10)(58.28,1.15)(58.31,1.20)(58.34,1.10)(58.37,1.05)(58.40,1.10)(58.43,1.15)(58.46,1.05)(58.49,1.10)(58.52,1.05)(58.55,1.00)(58.58,1.02)(58.61,1.00)(58.64,0.95)(58.67,0.90)(58.70,0.85)(58.73,0.80)(58.76,0.90)(58.79,0.95)(58.82,1.00)(58.85,1.10)(58.88,1.20)(58.91,1.30)(58.94,1.40)(58.97,1.45)(59.00,1.38)(59.03,1.30)(59.06,1.35)(59.09,1.40)(59.12,1.35)(59.15,1.38)(59.18,1.42)(59.21,1.40)(59.24,1.45)(59.27,1.38)(59.30,1.42)(59.33,1.45)(59.36,1.50)(59.39,1.48)(59.42,1.55)(59.45,1.60)(59.48,1.62)(59.51,1.70)(59.54,1.72)(59.57,1.68)(59.60,1.65)(59.63,1.60)(59.66,1.55)(59.69,1.50)(59.72,1.45)(59.75,1.40)(59.78,1.35)(59.81,1.30)(59.84,1.25)(59.87,1.20)(59.90,1.15)(59.93,1.10)(59.96,1.05)(59.99,1.00)(60.02,0.95)(60.05,0.90)(60.08,0.85)(60.11,0.80)(60.14,0.75)(60.17,0.70)(60.20,0.68)(60.23,0.65)(60.26,0.60)(60.29,0.58)(60.32,0.55)(60.35,0.50)(60.38,0.48)(60.41,0.45)(60.44,0.42)(60.47,0.40)(60.50,0.38)(60.53,0.45)(60.55,0.70)(60.57,0.95)(60.59,1.20)(60.61,1.40)(60.63,1.55)(60.66,1.62)(60.69,1.58)(60.72,1.60)(60.75,1.55)(60.78,1.62)(60.81,1.58)(60.84,1.55)(60.87,1.50)(60.90,1.48)(60.93,1.52)(60.96,1.45)(60.99,1.50)(61.02,1.42)(61.05,1.48)(61.08,1.52)(61.11,1.45)(61.14,1.40)(61.17,1.35)(61.20,1.30)(61.23,1.20)(61.26,1.05)(61.29,0.90)(61.32,0.80)(61.35,0.85)(61.38,0.75)(61.41,0.65)(61.44,0.55)(61.47,0.45)(61.50,0.35)(61.53,0.30)(61.56,0.32)(61.59,0.30)(61.62,0.35)(61.65,0.40)(61.68,0.38)(61.71,0.45)(61.74,0.55)(61.77,0.60)(61.80,0.50)(61.83,0.45)(61.86,0.55)(61.89,0.65)(61.92,0.80)(61.95,1.00)(61.98,1.20)(62.00,1.30)};
\addplot[pt] coordinates {(56.97,0.13)(57.02,0.08)(57.05,0.25)(57.08,0.35)(57.12,0.30)(57.14,0.10)(57.78,0.18)(57.82,0.30)(57.86,0.40)(57.90,0.35)(57.94,0.45)(57.98,0.40)(58.02,0.50)(58.05,0.55)(58.08,0.45)(58.10,1.20)(58.12,1.10)(58.14,0.90)(58.16,0.55)(58.18,0.10)(58.20,0.05)(58.23,0.45)(58.27,0.40)(58.30,0.50)(58.34,0.45)(58.38,0.55)(58.42,0.50)(58.46,0.60)(58.50,0.55)(58.54,0.50)(58.58,0.60)(58.62,0.55)(58.66,0.65)(58.70,0.60)(58.74,0.55)(58.78,0.65)(58.82,0.60)(58.86,0.62)(58.90,0.58)(58.94,0.55)(58.98,0.45)(59.02,0.40)(59.06,0.35)(59.10,0.30)(59.14,0.25)(59.18,0.28)(59.22,0.35)(59.26,0.30)(59.30,0.25)(59.34,0.30)(59.38,0.35)(59.42,0.28)(59.46,0.25)(59.50,0.18)(59.55,0.12)(59.60,0.10)(59.65,0.15)(59.70,0.12)(59.75,0.10)(59.80,0.15)(59.85,0.12)(59.90,0.10)(59.95,0.15)(60.00,0.18)(60.05,0.20)(60.10,0.22)(60.15,0.25)(60.20,0.28)(60.25,0.30)(60.30,0.35)(60.35,0.40)(60.40,0.50)(60.44,0.45)(60.48,0.35)(60.52,0.38)(60.56,0.30)(60.60,0.35)(60.65,0.40)(60.70,0.35)(60.75,0.38)(60.80,0.30)(60.85,0.10)(60.90,0.08)(60.95,0.05)(61.00,0.10)(61.05,0.85)(61.08,1.10)(61.11,1.20)(61.14,1.05)(61.17,1.25)(61.20,1.15)(61.23,1.30)(61.26,1.20)(61.29,1.35)(61.32,1.25)(61.35,1.40)(61.38,1.10)(61.41,0.90)(61.44,1.00)(61.47,1.90)(61.50,3.50)(61.52,3.60)(61.54,3.45)(61.56,3.30)(61.58,3.20)(61.60,3.25)(61.62,3.10)(61.64,3.15)(61.66,3.05)(61.68,2.95)(61.70,2.85)(61.72,2.90)(61.74,2.70)(61.76,2.55)(61.78,2.45)(61.80,2.40)(61.82,2.30)(61.84,2.35)(61.86,2.25)(61.88,2.10)(61.90,2.00)(61.92,1.95)(61.94,1.90)(61.96,2.05)(61.98,1.95)};
\addplot[po] coordinates {(56.00,0.22)(56.08,0.13)(56.12,0.07)(56.97,0.07)(57.07,0.18)(57.14,0.24)(57.22,0.62)(57.34,0.54)(57.46,0.67)(57.58,0.71)(57.66,0.54)(57.74,0.46)(57.86,0.36)(57.99,0.27)(58.15,0.18)(58.27,0.13)(58.35,0.11)(59.28,0.13)(59.41,0.13)(59.53,0.11)(59.69,0.07)(59.85,0.07)(60.83,0.12)(60.91,0.12)(61.56,0.16)(61.72,0.15)(61.92,0.11)};
\addplot[gline] coordinates {(59.10,4.52)(59.40,4.52)};
\addplot[arrL] coordinates {(59.24,4.52)};
\draw[axC, line width=0.5pt] (rel axis cs:1,0) -- (rel axis cs:1,1);
\end{axis}

% ---------------- insets ----------------
\venominsets{-15.5pt}{-48pt}{-79.5pt}
\venominsets{-141.5pt}{-174pt}{-206pt}

\begin{axis}[ins, at={(170.5pt,-268pt)}, width=28pt, xmin=0.1135, xmax=0.3935,
  xtick={0.15,0.25,0.35}, xticklabels={0.15,,0.35}]
\addplot[hist] coordinates {(0.0605,0.01)(0.143,0.02)(0.1595,0.035)(0.176,0.07)(0.1925,0.15)(0.209,0.33)(0.2255,0.61)(0.242,0.88)(0.2585,1)(0.275,0.88)(0.2915,0.61)(0.308,0.33)(0.3245,0.15)(0.341,0.07)(0.3575,0.035)(0.374,0.02)(0.4565,0.01)} \closedcycle;
\addplot[bluC, vl] coordinates {(0.2635,0)(0.2635,1.07)};
\node[sig, anchor=north east] at (rel axis cs:0.98,0.97) {NS};
\end{axis}
\begin{axis}[ins, at={(170.5pt,-301pt)}, width=28pt, xmin=0.0216, xmax=0.1575,
  xtick={0.05,0.10}, xticklabels={0.05,0.10}]
\addplot[hist] coordinates {(-0.0145,0.01)(0.013,0.02)(0.0185,0.035)(0.024,0.07)(0.0295,0.15)(0.035,0.33)(0.0405,0.61)(0.046,0.88)(0.0515,1)(0.059,0.88)(0.0665,0.61)(0.074,0.33)(0.0815,0.15)(0.089,0.07)(0.0965,0.035)(0.104,0.02)(0.1415,0.01)} \closedcycle;
\addplot[orgC, vl] coordinates {(0.153,0)(0.153,1.07)};
\node[sig, anchor=north] at (rel axis cs:0.74,0.99) {***};
\end{axis}
\begin{axis}[ins, at={(170.5pt,-333.5pt)}, width=28pt, xmin=0.0055, xmax=0.0749,
  xtick={0.02,0.04,0.06}, xticklabels={0.02,,0.06}]
\addplot[hist] coordinates {(-0.0132,0.01)(0.0018,0.02)(0.0048,0.035)(0.0078,0.07)(0.0108,0.15)(0.0138,0.33)(0.0168,0.61)(0.0198,0.88)(0.0228,1)(0.0273,0.88)(0.0318,0.61)(0.0363,0.33)(0.0408,0.17)(0.0453,0.09)(0.0498,0.06)(0.0543,0.04)(0.0768,0.02)} \closedcycle;
\addplot[tealC, vl] coordinates {(0.0724,0)(0.0724,1.07)};
\node[sig, anchor=north] at (rel axis cs:0.74,0.99) {***};
\end{axis}

\begin{axis}[ins, at={(378.5pt,-15.5pt)}, width=30pt, xmin=0.1769, xmax=0.312,
  xtick={0.21,0.255,0.30}, xticklabels={0.21,,0.30}]
\addplot[hist] coordinates {(0.128,0.01)(0.173,0.02)(0.182,0.035)(0.191,0.07)(0.2,0.15)(0.209,0.33)(0.218,0.61)(0.227,0.88)(0.236,1)(0.245,0.88)(0.254,0.61)(0.263,0.33)(0.272,0.15)(0.281,0.07)(0.29,0.035)(0.299,0.02)(0.344,0.01)} \closedcycle;
\addplot[bluC, vl] coordinates {(0.279,0)(0.279,1.07)};
\node[sig, anchor=north west] at (rel axis cs:0.02,0.97) {NS};
\end{axis}
\begin{axis}[ins, at={(378.5pt,-48pt)}, width=30pt, xmin=0.0326, xmax=0.088,
  xtick={0.04,0.06,0.08}, xticklabels={0.04,,0.08}]
\addplot[hist] coordinates {(0.0119,0.01)(0.0307,0.02)(0.0344,0.035)(0.0382,0.07)(0.0419,0.15)(0.0457,0.33)(0.0494,0.61)(0.0532,0.88)(0.0569,1)(0.0607,0.88)(0.0644,0.61)(0.0682,0.33)(0.0719,0.15)(0.0757,0.07)(0.0794,0.035)(0.0832,0.02)(0.1019,0.01)} \closedcycle;
\addplot[orgC, vl] coordinates {(0.040,0)(0.040,1.07)};
\node[sig, anchor=north east] at (rel axis cs:0.98,0.99) {***};
\end{axis}
\begin{axis}[ins, at={(378.5pt,-79.5pt)}, width=30pt, xmin=0.0047, xmax=0.0447,
  xtick={0.01,0.025,0.04}, xticklabels={0.01,,0.04}]
\addplot[hist] coordinates {(-0.0055,0.01)(0.007,0.02)(0.0095,0.035)(0.012,0.07)(0.0145,0.15)(0.017,0.33)(0.0195,0.61)(0.022,0.88)(0.0245,1)(0.027,0.88)(0.0295,0.61)(0.032,0.33)(0.0345,0.15)(0.037,0.07)(0.0395,0.035)(0.042,0.02)(0.0545,0.01)} \closedcycle;
\addplot[tealC, vl] coordinates {(0.0067,0)(0.0067,1.07)};
\node[sig, anchor=north east] at (rel axis cs:0.98,0.99) {***};
\end{axis}

\begin{axis}[ins, at={(378.5pt,-141.5pt)}, width=30pt, xmin=0.175, xmax=0.3295,
  xtick={0.20,0.26,0.32}, xticklabels={0.20,,0.32}]
\addplot[hist] coordinates {(0.1252,0.01)(0.1752,0.02)(0.1852,0.035)(0.1952,0.07)(0.2052,0.15)(0.2152,0.33)(0.2252,0.61)(0.2352,0.88)(0.2452,1)(0.2552,0.88)(0.2652,0.61)(0.2752,0.33)(0.2852,0.15)(0.2952,0.07)(0.3052,0.035)(0.3152,0.02)(0.3652,0.01)} \closedcycle;
\addplot[bluC, vl] coordinates {(0.2967,0)(0.2967,1.07)};
\node[sig, anchor=north west] at (rel axis cs:0.02,0.97) {NS};
\end{axis}
\begin{axis}[ins, at={(378.5pt,-174pt)}, width=30pt, xmin=0.0303, xmax=0.0903,
  xtick={0.04,0.06,0.08}, xticklabels={0.04,,0.08}]
\addplot[hist] coordinates {(0.011,0.01)(0.0335,0.02)(0.038,0.035)(0.0425,0.07)(0.047,0.15)(0.0515,0.33)(0.056,0.61)(0.0605,0.88)(0.065,1)(0.0695,0.88)(0.074,0.61)(0.0785,0.33)(0.083,0.15)(0.0875,0.07)(0.092,0.035)(0.0965,0.02)(0.119,0.01)} \closedcycle;
\addplot[orgC, vl] coordinates {(0.046,0)(0.046,1.07)};
\node[sig, anchor=north east] at (rel axis cs:0.98,0.97) {NS};
\end{axis}
\begin{axis}[ins, at={(378.5pt,-206pt)}, width=30pt, xmin=0.0026, xmax=0.0582,
  xtick={0.01,0.03,0.05}, xticklabels={0.01,,0.05}]
\addplot[hist] coordinates {(-0.0035,0.01)(0.0103,0.02)(0.013,0.035)(0.0158,0.07)(0.0185,0.15)(0.0213,0.33)(0.024,0.61)(0.0268,0.88)(0.0295,1)(0.0323,0.88)(0.035,0.61)(0.0378,0.33)(0.0405,0.15)(0.0433,0.07)(0.046,0.035)(0.0488,0.02)(0.0625,0.01)} \closedcycle;
\addplot[tealC, vl] coordinates {(0.0061,0)(0.0061,1.07)};
\node[sig, anchor=north east] at (rel axis cs:0.98,0.99) {***};
\end{axis}

\begin{axis}[ins, at={(378.5pt,-268pt)}, width=30pt, xmin=0.1899, xmax=0.3145,
  xtick={0.21,0.255,0.30}, xticklabels={0.21,,0.30}]
\addplot[hist] coordinates {(0.1485,0.01)(0.1885,0.02)(0.1965,0.035)(0.2045,0.07)(0.2125,0.15)(0.2205,0.33)(0.2285,0.61)(0.2365,0.88)(0.2445,1)(0.2525,0.88)(0.2605,0.61)(0.2685,0.33)(0.2765,0.15)(0.2845,0.07)(0.2925,0.035)(0.3005,0.02)(0.3405,0.01)} \closedcycle;
\addplot[bluC, vl] coordinates {(0.2412,0)(0.2412,1.07)};
\node[sig, anchor=north east] at (rel axis cs:0.98,0.97) {NS};
\end{axis}
\begin{axis}[ins, at={(378.5pt,-301pt)}, width=30pt, xmin=0.0303, xmax=0.0903,
  xtick={0.04,0.06,0.08}, xticklabels={0.04,,0.08}]
\addplot[hist] coordinates {(0.011,0.01)(0.0335,0.02)(0.038,0.035)(0.0425,0.07)(0.047,0.15)(0.0515,0.33)(0.056,0.61)(0.0605,0.88)(0.065,1)(0.0695,0.88)(0.074,0.61)(0.0785,0.33)(0.083,0.15)(0.0875,0.07)(0.092,0.035)(0.0965,0.02)(0.119,0.01)} \closedcycle;
\addplot[orgC, vl] coordinates {(0.0417,0)(0.0417,1.07)};
\node[sig, anchor=north east] at (rel axis cs:0.98,0.99) {*};
\end{axis}
\begin{axis}[ins, at={(378.5pt,-333.5pt)}, width=30pt, xmin=0.0066, xmax=0.0603,
  xtick={0.01,0.035,0.06}, xticklabels={0.01,,0.06}]
\addplot[hist] coordinates {(-0.0026,0.01)(0.0137,0.02)(0.0169,0.035)(0.0202,0.07)(0.0234,0.15)(0.0267,0.33)(0.0299,0.61)(0.0332,0.88)(0.0364,1)(0.0397,0.88)(0.0429,0.61)(0.0462,0.33)(0.0494,0.15)(0.0527,0.07)(0.0559,0.035)(0.0592,0.02)(0.0754,0.01)} \closedcycle;
\addplot[tealC, vl] coordinates {(0.0100,0)(0.0100,1.07)};
\node[sig, anchor=north east] at (rel axis cs:0.98,0.99) {***};
\end{axis}

% ---------------- texts ----------------
\begin{scope}[every node/.style={inner sep=0pt, text=black!90}]
\node[anchor=base west, font=\fletter] at (10,37) {A};
\node[anchor=base west, font=\fletter] at (10,290) {B};
\node[anchor=base west, font=\fletter] at (10,540) {C};
\node[anchor=base west, font=\fletter] at (420,33) {D};
\node[anchor=base west, font=\fletter] at (425,290) {E};
\node[anchor=base west, font=\fletter] at (425,540) {F};

\node[anchor=base west, font=\ftitle] at (50,25) {Venom};
\node[anchor=base west, font=\ftitle] at (50,276.5) {Venom};
\node[anchor=base west, font=\ftitle] at (50,530) {Immune function};
\node[anchor=base west, font=\ftitle] at (467,25) {Spermatogenesis \& oogenesis};
\node[anchor=base west, font=\ftitle] at (467,276.5) {Oxidative phosphorylation};
\node[anchor=base west, font=\ftitle] at (467,530) {Chemosensory behavior};

\node[anchor=base west, font=\fann] at (222,40) {Snake venom};
\node[anchor=base west, font=\fann] at (222,53) {metalloproteinases};
\node[anchor=base west, font=\fann] at (222,66) {(SVMP)};
\node[anchor=base west, font=\fann] at (203,293) {Snake venom};
\node[anchor=base west, font=\fann] at (203,306) {serine proteases};
\node[anchor=base west, font=\fann] at (203,319) {(SVSP)};
\node[anchor=base west, font=\fann] at (263,547) {MHC};
\node[anchor=base west, font=\fann] at (263,560) {region};
\node[anchor=base east, font=\fann\itshape] at (587,51.5) {DMRT1};
\node[anchor=base east, font=\fann\itshape] at (604,304) {NDUFA6};
\node[anchor=base west, font=\fann\itshape] at (632,548) {FOXG1};

\node[anchor=base, font=\flab] at (186,245) {Chromosome 8 position (Mb)};
\node[anchor=base, font=\flab] at (186,498) {Chromosome 9 position (Mb)};
\node[anchor=base, font=\flab] at (186,748) {Chromosome 2 position (Mb)};
\node[anchor=base, font=\flab] at (605,245) {Chromosome 2 position (Mb)};
\node[anchor=base, font=\flab] at (605,498) {Chromosome 6 position (Mb)};
\node[anchor=base, font=\flab] at (605,748) {Chromosome 1 position (Mb)};

\node[anchor=base, rotate=90, font=\flab] at (22,121) {Relative \fd};
\node[anchor=base, rotate=90, font=\flab] at (22,374) {Relative \fd};
\node[anchor=base, rotate=90, font=\flab] at (22,627) {Relative \fd};
\node[anchor=base, rotate=90, font=\flab] at (438,121) {Relative \fd};
\node[anchor=base, rotate=90, font=\flab] at (438,373) {Relative \fd};
\node[anchor=base, rotate=90, font=\flab] at (438,627) {Relative \fd};

\node[anchor=base, font=\ftitle] at (369,21) {All genes};
\node[anchor=base, font=\ftitle] at (369,275) {All genes};
\node[anchor=base, font=\ftitle] at (369,529) {All genes};
\node[anchor=base, font=\ftitle] at (787,20) {All genes};
\node[anchor=base, font=\ftitle] at (787,274) {All genes};
\node[anchor=base, font=\ftitle] at (787,528) {All genes};

\node[anchor=base, font=\fontsize{8.5}{9}\selectfont] at (369,236) {\fd};
\node[anchor=base, font=\fontsize{8.5}{9}\selectfont] at (369,490) {\fd};
\node[anchor=base, font=\fontsize{8.5}{9}\selectfont] at (369,744) {\fd};
\node[anchor=base, font=\fontsize{8.5}{9}\selectfont] at (787,236) {\fd};
\node[anchor=base, font=\fontsize{8.5}{9}\selectfont] at (787,490) {\fd};
\node[anchor=base, font=\fontsize{8.5}{9}\selectfont] at (787,744) {\fd};

\node[anchor=base, font=\fann] at (703,96) {\fd{} comparisons};
\node[anchor=base, font=\fann] at (703,110) {shown};
\end{scope}

% tree legend
\draw[axC, line width=0.6pt] (661.7,43.3) -- (661.7,74.5);
\draw[axC, line width=0.6pt] (661.7,43.3) -- (676,43.3);
\draw[axC, line width=0.6pt] (661.7,74.5) -- (698.3,74.5);
\draw[axC, line width=0.6pt] (711.7,35) -- (676,35) -- (676,51.7) -- (711.7,51.7);
\draw[axC, line width=0.6pt] (711.7,67.3) -- (698.3,67.3) -- (698.3,81.7) -- (711.7,81.7);
\fill[orgC] (714,35) rectangle (721.7,51.7);
\fill[bluC] (714,67.3) rectangle (721.7,82.7);
\draw[tealC, line width=0.9pt] (726,33) -- (731.7,33) -- (731.7,82.7) -- (726,82.7);

\pgfresetboundingbox
\path[use as bounding box] (0,0) rectangle (825,755);
\end{tikzpicture}
\end{document}
